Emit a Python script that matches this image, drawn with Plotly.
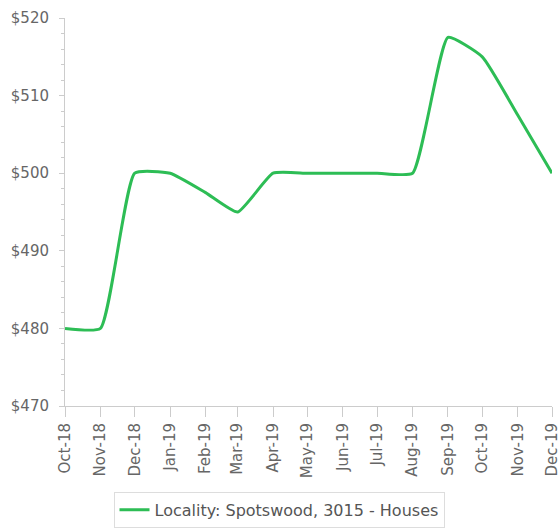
import plotly.graph_objects as go

months = ["2018-10-01", "2018-11-01", "2018-12-01", "2019-01-01", "2019-02-01",
          "2019-03-01", "2019-04-01", "2019-05-01", "2019-06-01", "2019-07-01",
          "2019-08-01", "2019-09-01", "2019-10-01", "2019-11-01", "2019-12-01"]
values = [480, 480, 500, 500, 497.5, 495, 500, 500, 500, 500, 500, 517.5, 515, 507.5, 500]
series_name = "Locality: Spotswood, 3015 - Houses"
y_ticks = [470, 480, 490, 500, 510, 520]
y_tick_labels = ["$470", "$480", "$490", "$500", "$510", "$520"]

fig = go.Figure()
fig.add_trace(go.Scatter(
    x=months, y=values, mode="lines", name=series_name,
    line=dict(color="#2dbd55", width=3, shape="spline", smoothing=0.45),
    showlegend=True,
))

fig.update_layout(
    width=558, height=530,
    margin=dict(l=65, r=6, t=18, b=124, autoexpand=False),
    paper_bgcolor="white", plot_bgcolor="white",
    font=dict(family="DejaVu Sans", color="#666666", size=15),
    showlegend=True,
    legend=dict(
        orientation="h", xref="container", yref="container",
        x=0.5, xanchor="center", y=0.072, yanchor="top",
        bordercolor="#dddddd", borderwidth=1,
        font=dict(size=16, color="#555555"),
        itemwidth=30,
    ),
    xaxis=dict(
        type="date", range=["2018-10-01", "2019-12-01"],
        tickvals=months, tickformat="%b-%y", tickangle=-90,
        showgrid=False, zeroline=False, automargin=False,
        ticklabeloverflow="allow",
        showline=True, linecolor="#cccccc", linewidth=1,
        ticks="outside", ticklen=10, tickcolor="#cccccc",
        tickfont=dict(size=15, color="#666666"),
    ),
    yaxis=dict(
        range=[470, 520], tickvals=y_ticks, ticktext=y_tick_labels,
        showgrid=False, zeroline=False, automargin=False,
        ticklabeloverflow="allow", ticklabelstandoff=7,
        showline=True, linecolor="#cccccc", linewidth=1,
        ticks="outside", ticklen=5, tickcolor="#cccccc",
        minor=dict(dtick=2, ticks="outside", ticklen=3, tickcolor="#cccccc", showgrid=False),
        tickfont=dict(size=15, color="#666666"),
    ),
)

fig.write_html("out.html", config={"displayModeBar": False},
               post_script="document.body.style.margin='0';")
